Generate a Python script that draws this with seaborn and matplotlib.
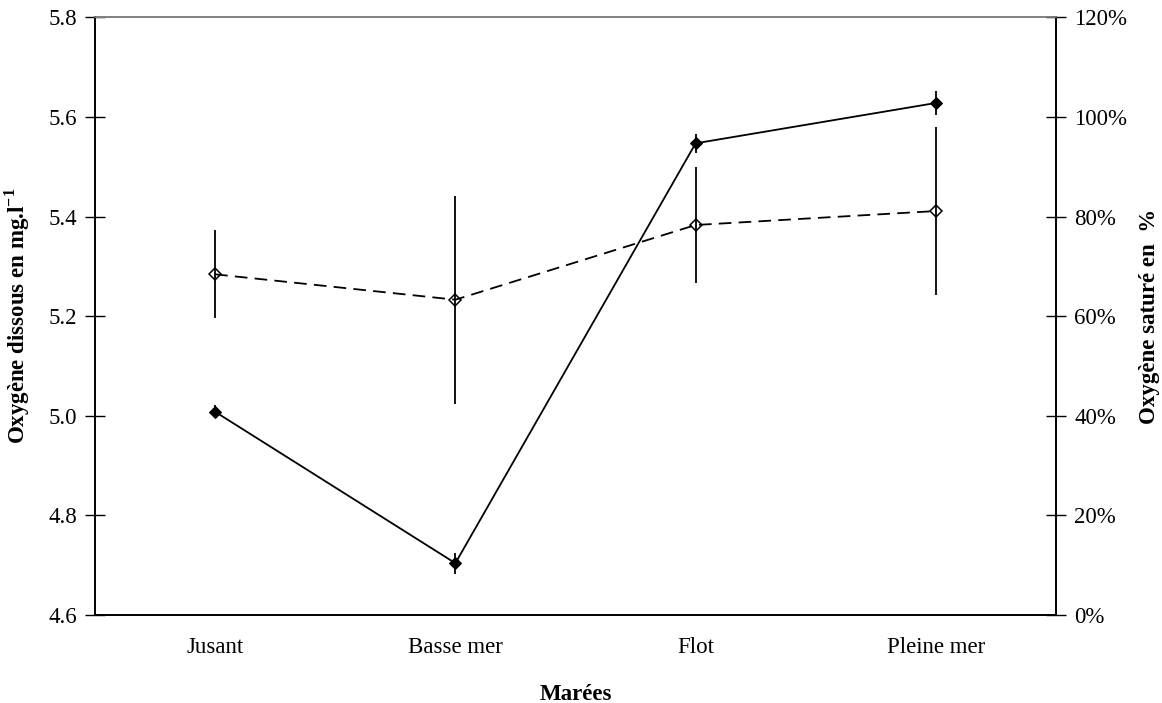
import matplotlib
matplotlib.use("Agg")
import matplotlib.pyplot as plt
import numpy as np
import pandas as pd
import seaborn as sns

# Tidal stages and measurements
marees = ["Jusant", "Basse mer", "Flot", "Pleine mer"]
oxygene_dissous = [5.008, 4.704, 5.547, 5.628]        # mg.l-1
oxygene_dissous_err = [0.013, 0.021, 0.019, 0.024]
oxygene_sature = [68.4, 63.3, 78.3, 81.1]            # %
oxygene_sature_err = [8.8, 20.9, 11.7, 16.9]

sns.set_theme(style="white")
plt.rcParams["font.family"] = ["Liberation Serif", "DejaVu Serif"]
plt.rcParams["mathtext.fontset"] = "custom"
plt.rcParams["mathtext.rm"] = "Liberation Serif"
plt.rcParams["mathtext.bf"] = "Liberation Serif:bold"
plt.rcParams["text.color"] = "black"
plt.rcParams["axes.labelcolor"] = "black"
plt.rcParams["xtick.color"] = "black"
plt.rcParams["ytick.color"] = "black"

pos = np.arange(len(marees))
df = pd.DataFrame({
    "pos": pos,
    "maree": marees,
    "dissous": oxygene_dissous,
    "dissous_err": oxygene_dissous_err,
    "sature": oxygene_sature,
    "sature_err": oxygene_sature_err,
})

fig = plt.figure(figsize=(11.62, 7.03), dpi=100)
ax = fig.add_axes([95 / 1162, 1 - 615 / 703, (1056 - 95) / 1162, (615 - 17.3) / 703])
ax2 = ax.twinx()

# Dissolved oxygen (left axis): solid line, filled diamonds
ax.errorbar(df["pos"], df["dissous"], yerr=df["dissous_err"], fmt="none",
            ecolor="black", elinewidth=1.3, capsize=0, zorder=2)
sns.lineplot(data=df, x="pos", y="dissous", ax=ax, color="black", lw=1.3,
             marker="D", markersize=6.5, markerfacecolor="black",
             markeredgecolor="black", zorder=3)

# Saturation (right axis): dashed line, open diamonds
ax2.errorbar(df["pos"], df["sature"], yerr=df["sature_err"], fmt="none",
             ecolor="black", elinewidth=1.3, capsize=0, zorder=2)
sns.lineplot(data=df, x="pos", y="sature", ax=ax2, color="black", lw=1.3,
             marker="D", markersize=6.5, markerfacecolor="none",
             markeredgecolor="black", markeredgewidth=1.1, zorder=3)
ax2.lines[-1].set_dashes((7, 4))

# Axes limits and ticks
ax.set_xlim(-0.5, len(marees) - 0.5)
ax.set_ylim(4.6, 5.8)
ax.set_yticks(np.arange(4.6, 5.81, 0.2))
ax.set_yticklabels([f"{v:.1f}" for v in np.arange(4.6, 5.81, 0.2)])
ax2.set_ylim(0, 120)
ax2.set_yticks(np.arange(0, 121, 20))
ax2.set_yticklabels([f"{v}%" for v in range(0, 121, 20)])

ax.set_xticks(np.arange(-0.5, len(marees), 1.0))
ax.set_xticklabels([])
ax.set_xticks(pos, minor=True)
ax.set_xticklabels(marees, minor=True)
ax.tick_params(axis="x", which="major", direction="inout", length=14, width=1, color="black")
ax.tick_params(axis="x", which="minor", length=0, pad=16, labelsize=16.5)
ax.tick_params(axis="y", direction="inout", length=14, width=1, color="black",
               labelsize=16.5, pad=6, left=True)
ax2.tick_params(axis="y", direction="inout", length=14, width=1, color="black",
                labelsize=16.5, pad=6, right=True)

for a in (ax, ax2):
    for s in a.spines.values():
        s.set_color("black")
        s.set_linewidth(1.2)
    a.spines["top"].set_color("#808080")
    a.grid(False)

ax.set_xlabel("Marées", fontsize=16.5, fontweight="bold", labelpad=18)
ax.set_ylabel(r"Oxygène dissous en mg.l$^{\mathbf{-1}}$", fontsize=16.5,
              fontweight="bold")
ax2.set_ylabel("Oxygène saturé en  %", fontsize=16.5, fontweight="bold",
               rotation=90)
ax.yaxis.set_label_coords(-0.066, 0.5)
ax2.yaxis.set_label_coords(1.086, 0.5)
ax.xaxis.set_label_coords(0.5, -0.115)

fig.savefig("out.png", dpi=100, facecolor="white")
